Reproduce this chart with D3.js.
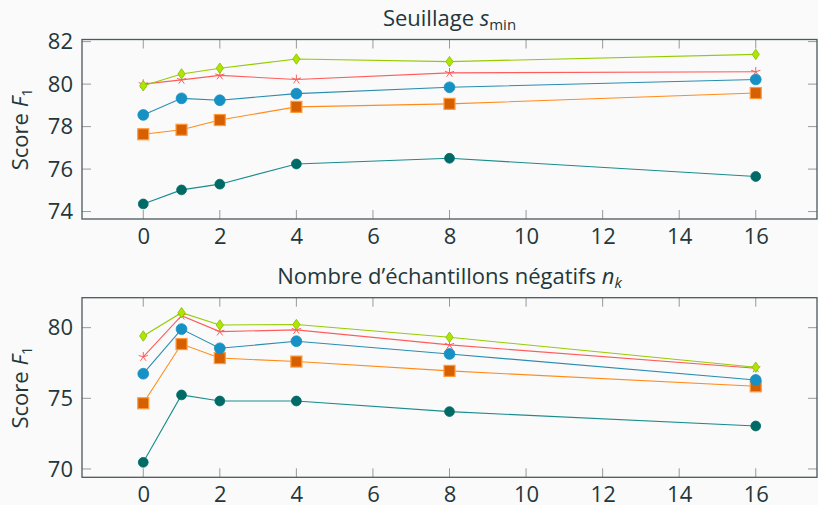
<!DOCTYPE html>
<html>
<head>
<meta charset="utf-8">
<script src="https://cdn.jsdelivr.net/npm/d3@7"></script>
<style>
  body { margin: 0; background: #fafafa; }
  svg { display: block; font-family: "Open Sans", sans-serif; }
</style>
</head>
<body>
<svg id="chart" width="818" height="505"></svg>
<script>
// x values (shared by both panels)
var xValues = [0, 1, 2, 4, 8, 16];
var xTicks = [0, 2, 4, 6, 8, 10, 12, 14, 16];

// panel 1 : Seuillage s_min
var topTeal   = [74.36, 75.02, 75.29, 76.24, 76.51, 75.65];
var topOrange = [77.64, 77.85, 78.31, 78.93, 79.07, 79.58];
var topBlue   = [78.55, 79.33, 79.24, 79.55, 79.85, 80.22];
var topRed    = [80.00, 80.20, 80.41, 80.22, 80.53, 80.58];
var topGreen  = [79.92, 80.48, 80.75, 81.18, 81.06, 81.40];
var topYTicks = [74, 76, 78, 80, 82];

// panel 2 : Nombre d'échantillons négatifs n_k
var botTeal   = [70.47, 75.24, 74.81, 74.81, 74.06, 73.04];
var botOrange = [74.65, 78.84, 77.85, 77.60, 76.94, 75.85];
var botBlue   = [76.74, 79.90, 78.54, 79.04, 78.14, 76.30];
var botRed    = [77.93, 80.85, 79.72, 79.84, 78.78, 77.13];
var botGreen  = [79.41, 81.06, 80.19, 80.22, 79.32, 77.20];
var botYTicks = [70, 75, 80];

var textColor = '#23373b';
var fontSize = 22;
var subSize = 15;

// series styles
var styles = [
  { key: 'teal',   line: '#1a8c8c', fill: '#006b66', stroke: '#006b66', shape: 'circle', size: 4.9 },
  { key: 'orange', line: '#ff8c1a', fill: '#d66000', stroke: '#ff9a3a', shape: 'square', size: 11 },
  { key: 'blue',   line: '#2a8db0', fill: '#1790c4', stroke: '#1790c4', shape: 'circle', size: 5.4 },
  { key: 'red',    line: '#ff5c5c', fill: 'none',    stroke: '#ff5c5c', shape: 'star',   size: 4.8 },
  { key: 'green',  line: '#95cc00', fill: '#aee600', stroke: '#88bb00', shape: 'diamond', size: 5.2 }
];

var svg = d3.select('#chart');

function drawPanel(cfg) {
  var g = svg.append('g');
  var xScale = d3.scaleLinear().domain([-1.6, 17.6]).range([cfg.left, cfg.right]);
  var yScale = d3.scaleLinear().domain(cfg.yDomain).range([cfg.bottom, cfg.top]);
  var tl = 9;

  // inner ticks (both sides)
  g.append('g').selectAll('line')
    .data(xTicks).enter().append('line')
    .attr('x1', d => xScale(d)).attr('x2', d => xScale(d))
    .attr('y1', cfg.bottom).attr('y2', cfg.bottom - tl)
    .attr('stroke', '#999').attr('stroke-width', 1);
  g.append('g').selectAll('line')
    .data(xTicks).enter().append('line')
    .attr('x1', d => xScale(d)).attr('x2', d => xScale(d))
    .attr('y1', cfg.top).attr('y2', cfg.top + tl)
    .attr('stroke', '#999').attr('stroke-width', 1);
  g.append('g').selectAll('line')
    .data(cfg.yTicks).enter().append('line')
    .attr('x1', cfg.left).attr('x2', cfg.left + tl)
    .attr('y1', d => yScale(d)).attr('y2', d => yScale(d))
    .attr('stroke', '#999').attr('stroke-width', 1);
  g.append('g').selectAll('line')
    .data(cfg.yTicks).enter().append('line')
    .attr('x1', cfg.right).attr('x2', cfg.right - tl)
    .attr('y1', d => yScale(d)).attr('y2', d => yScale(d))
    .attr('stroke', '#999').attr('stroke-width', 1);

  // tick labels via d3 axes (tick lines hidden)
  var xAxis = g.append('g')
    .attr('transform', `translate(0,${cfg.bottom})`)
    .call(d3.axisBottom(xScale).tickValues(xTicks).tickSize(0).tickPadding(9));
  xAxis.select('.domain').remove();
  var yAxis = g.append('g')
    .attr('transform', `translate(${cfg.left},0)`)
    .call(d3.axisLeft(yScale).tickValues(cfg.yTicks).tickSize(0).tickPadding(9));
  yAxis.select('.domain').remove();
  g.selectAll('.tick text')
    .attr('fill', textColor)
    .attr('font-size', fontSize)
    .attr('font-family', '"Open Sans", sans-serif');

  // box
  g.append('rect')
    .attr('x', cfg.left).attr('y', cfg.top)
    .attr('width', cfg.right - cfg.left).attr('height', cfg.bottom - cfg.top)
    .attr('fill', 'none').attr('stroke', '#4b5a5e').attr('stroke-width', 1.3);

  // lines + markers
  var line = d3.line().x((d, i) => xScale(xValues[i])).y(d => yScale(d));
  cfg.series.forEach(function (vals, si) {
    var st = styles[si];
    g.append('path').datum(vals)
      .attr('d', line)
      .attr('fill', 'none')
      .attr('stroke', st.line)
      .attr('stroke-width', 1.1);
    var m = g.append('g').selectAll('g')
      .data(vals).enter().append('g')
      .attr('transform', (d, i) => `translate(${xScale(xValues[i])},${yScale(d)})`);
    if (st.shape === 'circle') {
      m.append('circle').attr('r', st.size).attr('fill', st.fill).attr('stroke', st.stroke).attr('stroke-width', 0.8);
    } else if (st.shape === 'square') {
      m.append('rect').attr('x', -st.size / 2).attr('y', -st.size / 2)
        .attr('width', st.size).attr('height', st.size)
        .attr('fill', st.fill).attr('stroke', st.stroke).attr('stroke-width', 1.2);
    } else if (st.shape === 'diamond') {
      var s = st.size;
      m.append('path').attr('d', `M0,${-s}L${s * 0.7},0L0,${s}L${-s * 0.7},0Z`)
        .attr('fill', st.fill).attr('stroke', st.stroke).attr('stroke-width', 0.8);
    } else if (st.shape === 'star') {
      var r = st.size, p = '';
      for (var k = 0; k < 5; k++) {
        var a = -Math.PI / 2 + k * 2 * Math.PI / 5;
        p += `M0,0L${r * Math.cos(a)},${r * Math.sin(a)}`;
      }
      m.append('path').attr('d', p).attr('fill', 'none').attr('stroke', st.stroke).attr('stroke-width', 1);
    }
  });

  // title
  var title = g.append('text')
    .attr('x', (cfg.left + cfg.right) / 2).attr('y', cfg.top - 14)
    .attr('text-anchor', 'middle').attr('fill', textColor)
    .attr('font-size', fontSize);
  cfg.title(title);

  // y label
  var yl = g.append('text')
    .attr('transform', `translate(28,${(cfg.top + cfg.bottom) / 2}) rotate(-90)`)
    .attr('text-anchor', 'middle').attr('fill', textColor)
    .attr('font-size', fontSize);
  yl.append('tspan').text('Score ');
  yl.append('tspan').attr('font-style', 'italic').text('F');
  yl.append('tspan').attr('font-size', subSize).attr('dy', 4).text('1');
}

drawPanel({
  left: 82, right: 817, top: 39.5, bottom: 219,
  yDomain: [73.65, 82.1], yTicks: topYTicks,
  series: [topTeal, topOrange, topBlue, topRed, topGreen],
  title: function (t) {
    t.append('tspan').text('Seuillage ');
    t.append('tspan').attr('font-style', 'italic').text('s');
    t.append('tspan').attr('font-size', subSize).attr('dy', 4).text('min');
  }
});

drawPanel({
  left: 82, right: 817, top: 297.7, bottom: 477.3,
  yDomain: [69.41, 82.12], yTicks: botYTicks,
  series: [botTeal, botOrange, botBlue, botRed, botGreen],
  title: function (t) {
    t.append('tspan').text('Nombre d\u2019échantillons négatifs ');
    t.append('tspan').attr('font-style', 'italic').text('n');
    t.append('tspan').attr('font-style', 'italic').attr('font-size', subSize).attr('dy', 4).text('k');
  }
});
</script>
</body>
</html>
